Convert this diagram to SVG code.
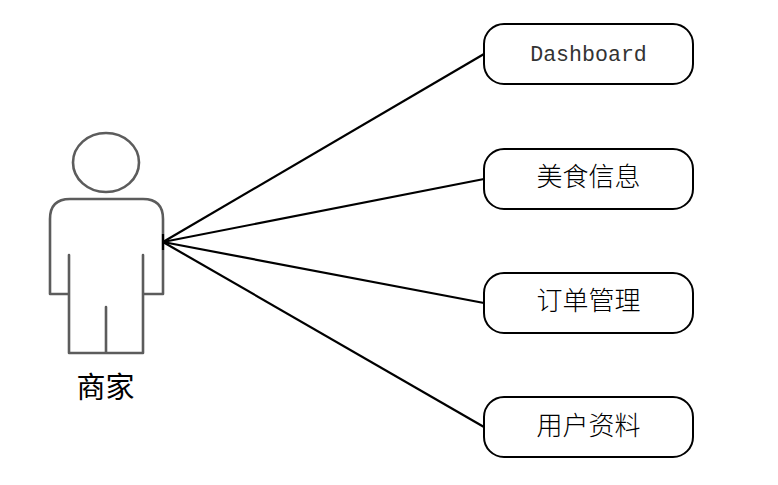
<svg xmlns="http://www.w3.org/2000/svg" width="778" height="485" viewBox="0 0 778 485">
<style>
.box{fill:#fff;stroke:#000;stroke-width:2}
.fig{fill:none;stroke:#5c5c5c;stroke-width:2.6;stroke-linejoin:round;stroke-linecap:round}
.conn{fill:none;stroke:#000;stroke-width:2.2}
.lbl{font-family:"Noto Sans CJK SC","Liberation Sans",sans-serif;font-size:26px;font-weight:300;fill:#000;text-anchor:middle}
.mono{font-family:"Liberation Mono","Noto Sans CJK SC",monospace;font-size:21.6px;fill:#333;text-anchor:middle}
</style>
<rect width="778" height="485" fill="#fff"/>
<g id="actor">
<ellipse class="fig" cx="106" cy="162.500" rx="33" ry="29.500"/>
<path class="fig" d="M69 255V294H50V219Q50 199 70 199H143Q163 199 163 219V294H143V255M69 294V353H143V294M106 307V353"/>
<text x="105.500" y="398" font-family="'Noto Sans CJK SC',sans-serif" font-size="29px" text-anchor="middle" fill="#000">商家</text>
</g>
<g id="connectors">
<line class="conn" x1="163" y1="242" x2="484" y2="54"/>
<line class="conn" x1="163" y1="242" x2="484" y2="179"/>
<line class="conn" x1="163" y1="242" x2="484" y2="303"/>
<line class="conn" x1="163" y1="242" x2="484" y2="427"/>
<line class="conn" x1="163" y1="234" x2="163" y2="250"/>
</g>
<g id="node-dashboard"><rect class="box" x="484" y="24" width="209" height="60" rx="20"/><text class="mono" x="588.500" y="61">Dashboard</text></g>
<g id="node-food"><rect class="box" x="484" y="149" width="209" height="60" rx="20"/><text class="lbl" x="588.500" y="186">美食信息</text></g>
<g id="node-orders"><rect class="box" x="484" y="273" width="209" height="60" rx="20"/><text class="lbl" x="588.500" y="310">订单管理</text></g>
<g id="node-profile"><rect class="box" x="484" y="397" width="209" height="60" rx="20"/><text class="lbl" x="588.500" y="435">用户资料</text></g>
</svg>
